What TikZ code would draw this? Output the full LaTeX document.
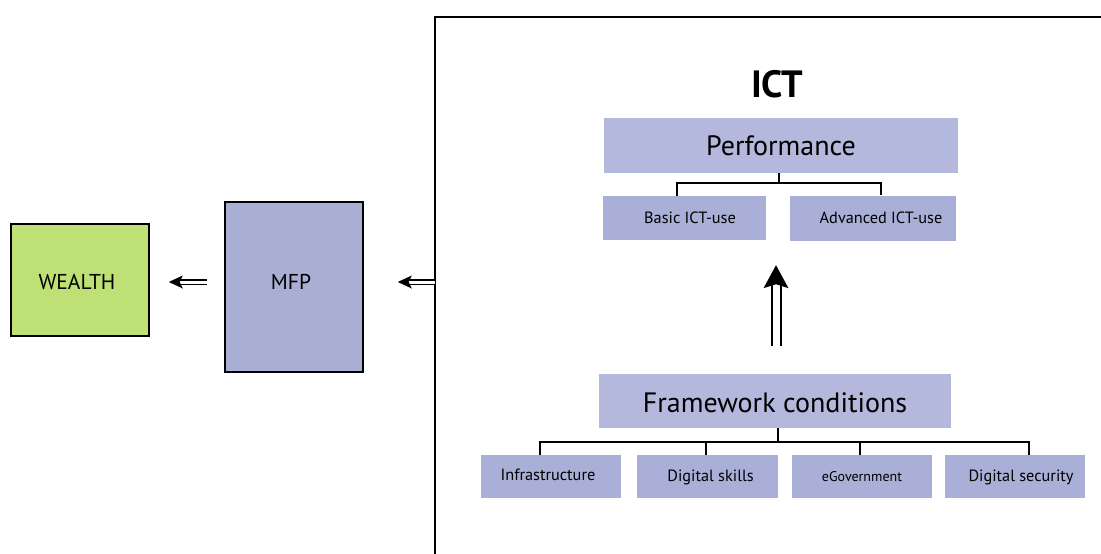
\documentclass[tikz,border=0pt]{standalone}
\usepackage{fontspec}
\setmainfont{PT Sans}
\usetikzlibrary{calc}
\definecolor{wealthgreen}{HTML}{BEE075}
\definecolor{mfpblue}{HTML}{A8AED4}
\definecolor{headblue}{HTML}{B3B8DC}
\definecolor{leafblue}{HTML}{A9AFD6}
\begin{document}
\begin{tikzpicture}[x=1pt,y=-1pt,
  framed/.style={draw=black, line width=1.5pt, inner sep=0pt},
  bigtext/.style={font=\fontsize{21.5}{24}\selectfont},
  headbox/.style={fill=headblue, inner sep=0pt},
  headtext/.style={font=\fontsize{28}{32}\selectfont},
  leafbox/.style={fill=leafblue, inner sep=0pt},
  leaftext/.style={font=\fontsize{16.3}{19}\selectfont},
  tree/.style={line width=1.6pt},
  shaft/.style={draw=black, line width=1.6pt, double=white, double distance=3pt}
]
\useasboundingbox (0,0) rectangle (1101,554);

% outer frame of the ICT block (runs off the right and bottom edges)
\draw[line width=2.2pt] (435,554) -- (435,17) -- (1101,17);

% left-hand chain
\node[framed, fill=wealthgreen, minimum width=138, minimum height=112,
      label={[bigtext, xshift=-3, yshift=-2]center:WEALTH}] (wealth) at (80,280) {};
\node[framed, fill=mfpblue, minimum width=138, minimum height=170,
      label={[bigtext, xshift=-3, yshift=5]center:MFP}] (mfp) at (294,287) {};

% ICT block
\node[font=\fontsize{38}{42}\selectfont\bfseries] (ict) at (777,84) {ICT};
\node[headbox, minimum width=354, minimum height=55,
      label={[headtext]center:Performance}] (perf) at (781,145.5) {};
\node[leafbox, minimum width=163, minimum height=44,
      label={[leaftext, xshift=6]center:Basic ICT-use}] (basic) at (684,218) {};
\node[leafbox, minimum width=166, minimum height=45,
      label={[leaftext, xshift=8]center:Advanced ICT-use}] (adv) at (873,218) {};

\node[headbox, minimum width=352, minimum height=54,
      label={[headtext, yshift=-2]center:Framework conditions}] (fw) at (775,401) {};
\node[leafbox, minimum width=140, minimum height=43,
      label={[leaftext, xshift=-3, yshift=2]center:Infrastructure}] (infra) at (551,476.5) {};
\node[leafbox, minimum width=141, minimum height=43,
      label={[leaftext, xshift=3, yshift=-1]center:Digital skills}] (skills) at (707.5,476.5) {};
\node[leafbox, minimum width=140, minimum height=43,
      label={[font=\fontsize{14}{16}\selectfont]center:eGovernment}] (egov) at (862,476.5) {};
\node[leafbox, minimum width=140, minimum height=43,
      label={[leaftext, xshift=6, yshift=-1]center:Digital security}] (secu) at (1015,476.5) {};

% performance tree
\draw[tree] (perf.south -| 779,0) -- (779,183) coordinate (pj);
\draw[tree] (basic.north -| 677,0) |- (pj) -| (adv.north -| 881,0);

% framework tree
\draw[tree] (fw.south -| 778,0) -- (778,442) coordinate (fj);
\draw[tree] (infra.north -| 540,0) |- (fj) -| (secu.north -| 1029,0);
\draw[tree] (skills.north -| 706,0) -- (706,442);
\draw[tree] (egov.north -| 860,0) -- (860,442);

% double arrows
\coordinate (t1) at ($(wealth.east)+(19,2)$);
\coordinate (s1) at ($(mfp.west)+(-17,-5)$);
\draw[shaft, shorten >=10pt] (s1) -- (t1);
\fill[shift={(t1)}] (0,0) -- (14,-6.5) -- (11,0) -- (14,6.5) -- cycle;

\coordinate (t2) at ($(mfp.east)+(34,-5)$);
\coordinate (s2) at (435,282);
\draw[shaft, shorten >=10pt] (s2) -- (t2);
\fill[shift={(t2)}] (0,0) -- (14,-6.5) -- (11,0) -- (14,6.5) -- cycle;

\coordinate (t3) at ($(perf.south)+(-5,92)$);
\coordinate (s3) at ($(fw.north)+(1,-28)$);
\draw[draw=black, line width=2pt, double=white, double distance=7pt, shorten >=18pt] (s3) -- (t3);
\fill[shift={(t3)}] (0,0) -- (-12.5,23) -- (0,19) -- (12.5,23) -- cycle;
\end{tikzpicture}
\end{document}
